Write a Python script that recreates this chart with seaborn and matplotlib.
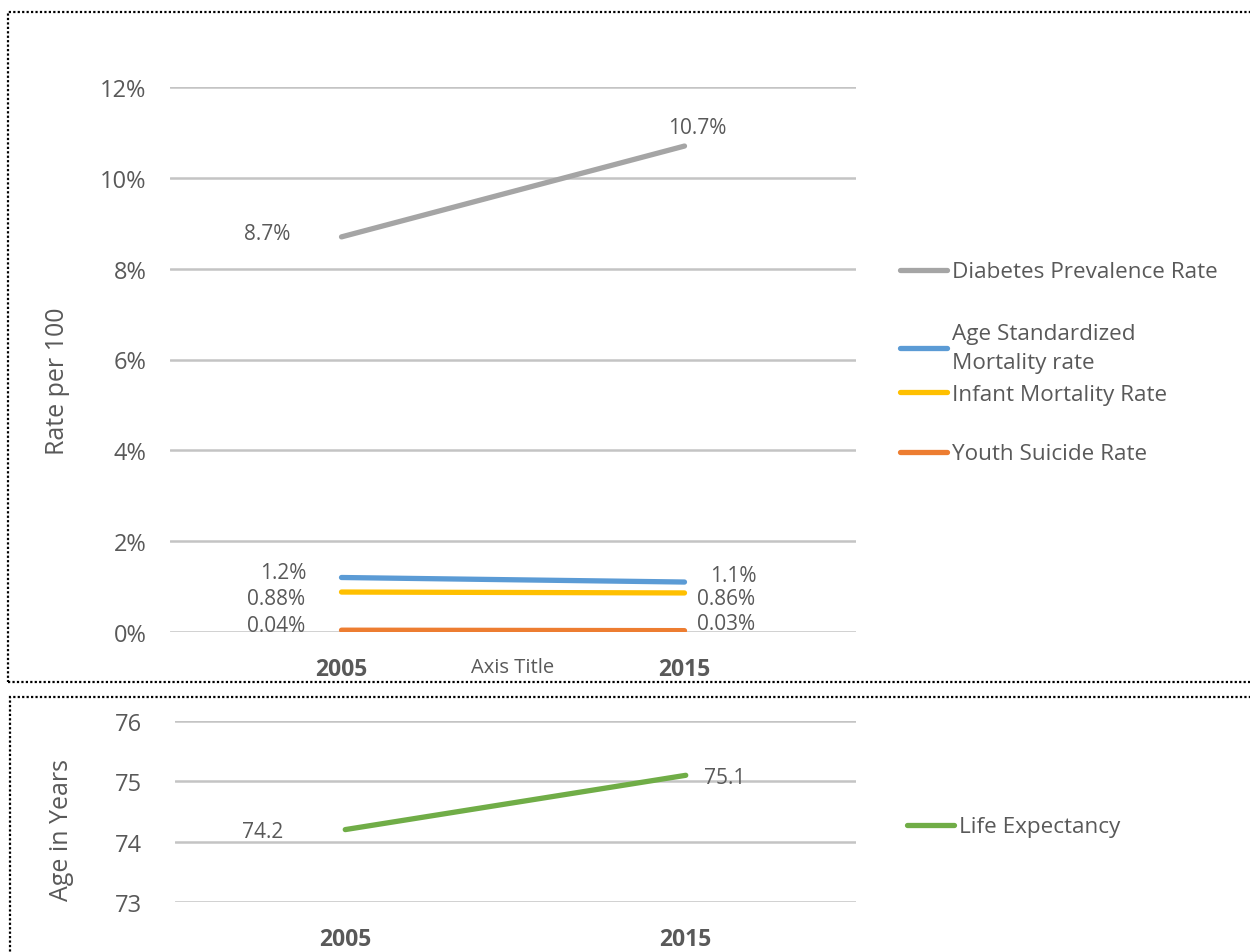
import matplotlib
matplotlib.use("Agg")
import matplotlib.pyplot as plt
import seaborn as sns
import pandas as pd
from matplotlib.patches import Rectangle
from matplotlib.ticker import FuncFormatter, FixedLocator

# ---------------- data ----------------
years = ["2005", "2015"]
series_names = ["Diabetes Prevalence Rate",
                "Age Standardized\nMortality rate",
                "Infant Mortality Rate",
                "Youth Suicide Rate"]
diabetes = [8.7, 10.7]
age_std_mortality = [1.2, 1.1]
infant_mortality = [0.88, 0.86]
youth_suicide = [0.04, 0.03]
life_name = "Life Expectancy"
life_expectancy = [74.2, 75.1]
rate_ticks = [0, 2, 4, 6, 8, 10, 12]
age_ticks = [73, 74, 75, 76]

colors = ["#A5A5A5", "#5B9BD5", "#FFC000", "#ED7D31"]
life_color = "#70AD47"
TXT = "#595959"
GRID = "#C4C4C4"

sns.set_theme(style="white")
plt.rcParams["font.family"] = ["Open Sans", "DejaVu Sans"]

W, H = 1250, 953
fig = plt.figure(figsize=(W / 100, H / 100), dpi=100)


def fx(px):
    return px / W


def fy(py):
    return 1 - py / H


# ---------------- top chart ----------------
rows = []
for name, vals in zip(series_names, [diabetes, age_std_mortality, infant_mortality, youth_suicide]):
    for yr, v in zip(years, vals):
        rows.append({"Year": yr, "Value": v, "Series": name})
df = pd.DataFrame(rows)

ax = fig.add_axes([fx(170), fy(633), fx(856) - fx(170), fy(88) - fy(633)])
sns.lineplot(data=df, x="Year", y="Value", hue="Series", hue_order=series_names,
             palette=dict(zip(series_names, colors)), linewidth=3.8, sort=False,
             legend=False, ax=ax)
for ln in ax.lines:
    ln.set_solid_capstyle("round")
ax.set_xlim(-0.5, 1.5)
ax.set_ylim(0, 12)
ax.yaxis.set_major_locator(FixedLocator(rate_ticks))
ax.yaxis.set_major_formatter(FuncFormatter(lambda v, p: f"{v:.0f}%"))
ax.yaxis.grid(True, color=GRID, linewidth=1.8)
ax.set_axisbelow(True)
for s in ax.spines.values():
    s.set_visible(False)
ax.tick_params(axis="y", length=0, pad=17, labelsize=17, labelcolor=TXT)
ax.tick_params(axis="x", length=0, pad=18, labelsize=16.5, labelcolor=TXT)
for t in ax.get_xticklabels():
    t.set_fontweight("bold")
ax.set_xlabel("Axis Title", fontsize=14.5, color=TXT)
ax.xaxis.set_label_coords(0.5, -0.045)
ax.set_ylabel("Rate per 100", fontsize=18, color=TXT)
ax.yaxis.set_label_coords(-0.146, 0.462)

# data labels: (dx, dy) left point, (dx, dy) right point, ha right label — pixels
offsets = {
    series_names[0]: ((-51, 3), (13, 19), "center"),
    series_names[1]: ((-35, 5), (26, 7), "left"),
    series_names[2]: ((-36, -6), (12, -6), "left"),
    series_names[3]: ((-36, 5), (12, 7), "left"),
}
for name, vals in zip(series_names, [diabetes, age_std_mortality, infant_mortality, youth_suicide]):
    (dxl, dyl), (dxr, dyr), har = offsets[name]
    ax.annotate(f"{vals[0]:g}%", xy=(0, vals[0]), xytext=(dxl, dyl), textcoords="offset pixels",
                ha="right", va="center", fontsize=15, color=TXT)
    ax.annotate(f"{vals[1]:g}%", xy=(1, vals[1]), xytext=(dxr, dyr), textcoords="offset pixels",
                ha=har, va="center", fontsize=15, color=TXT)

# legends (one per entry to match spacing)
leg_y = [273, 349, 395, 455]
handles = ax.lines[:4]
for h, name, ly in zip(handles, series_names, leg_y):
    lg = fig.legend([h], [name], loc="center left", bbox_to_anchor=(fx(900), fy(ly)),
                    frameon=False, borderpad=0, borderaxespad=0, handlelength=2.1,
                    handletextpad=0.2, fontsize=16.2, labelcolor=TXT)
    for t in lg.get_texts():
        t.set_linespacing(1.45)

# ---------------- bottom chart ----------------
df2 = pd.DataFrame({"Year": years, "Value": life_expectancy, "Series": [life_name] * len(years)})
ax2 = fig.add_axes([fx(175), fy(903), fx(856) - fx(175), fy(722) - fy(903)])
sns.lineplot(data=df2, x="Year", y="Value", color=life_color, linewidth=3.8, sort=False,
             ax=ax2, label=life_name, legend=False)
for ln in ax2.lines:
    ln.set_solid_capstyle("round")
ax2.set_xlim(-0.5, 1.5)
ax2.set_ylim(73, 76)
ax2.yaxis.set_major_locator(FixedLocator(age_ticks))
ax2.yaxis.set_major_formatter(FuncFormatter(lambda v, p: f"{v:.0f}"))
ax2.yaxis.grid(True, color=GRID, linewidth=1.8)
ax2.set_axisbelow(True)
for s in ax2.spines.values():
    s.set_visible(False)
ax2.tick_params(axis="y", length=0, pad=24, labelsize=17, labelcolor=TXT)
ax2.tick_params(axis="x", length=0, pad=18, labelsize=16.5, labelcolor=TXT)
for t in ax2.get_xticklabels():
    t.set_fontweight("bold")
ax2.set_xlabel("")
ax2.set_ylabel("Age in Years", fontsize=18, color=TXT)
ax2.yaxis.set_label_coords(-0.149, 0.403)
ax2.annotate(f"{life_expectancy[0]:g}", xy=(0, life_expectancy[0]), xytext=(-62, -2),
             textcoords="offset pixels", ha="right", va="center", fontsize=15, color=TXT)
ax2.annotate(f"{life_expectancy[1]:g}", xy=(1, life_expectancy[1]), xytext=(18, -2),
             textcoords="offset pixels", ha="left", va="center", fontsize=15, color=TXT)
fig.legend([ax2.lines[0]], [life_name], loc="center left", bbox_to_anchor=(fx(907), fy(828)),
           frameon=False, borderpad=0, borderaxespad=0, handlelength=2.1,
           handletextpad=0.2, fontsize=16.2, labelcolor=TXT)

# ---------------- dotted panel borders ----------------
fig.add_artist(Rectangle((fx(8), fy(683)), fx(1260) - fx(8), fy(13) - fy(683),
                         transform=fig.transFigure, fill=False, edgecolor="black",
                         linestyle=(0, (1, 1)), linewidth=1.6))
fig.add_artist(Rectangle((fx(10), fy(965)), fx(1260) - fx(10), fy(698) - fy(965),
                         transform=fig.transFigure, fill=False, edgecolor="black",
                         linestyle=(0, (1, 1)), linewidth=1.6))

fig.savefig("out.png", dpi=100)
